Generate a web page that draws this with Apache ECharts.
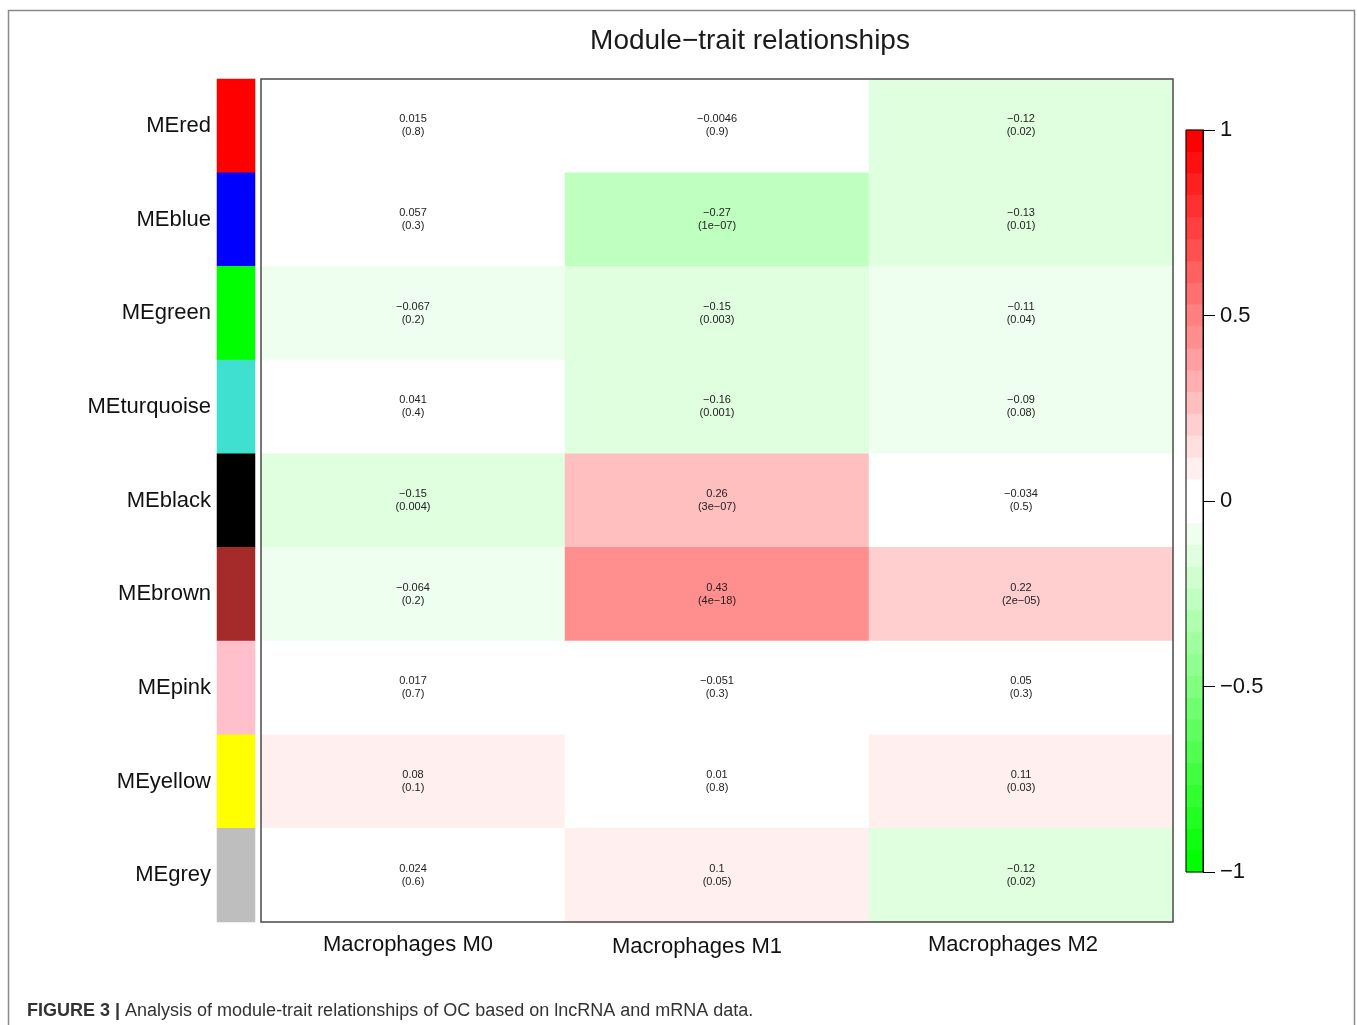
<!DOCTYPE html>
<html>
<head>
<meta charset="utf-8">
<title>Module−trait relationships</title>
<script src="https://cdn.jsdelivr.net/npm/echarts@6/dist/echarts.min.js"></script>
<style>
  html, body { margin: 0; padding: 0; background: #fff; }
  #chart { width: 1357px; height: 1025px; }
</style>
</head>
<body>
<div id="chart"></div>
<script>
// Module eigengenes (rows, top to bottom) and traits (columns)
const modules = ['MEred', 'MEblue', 'MEgreen', 'MEturquoise', 'MEblack', 'MEbrown', 'MEpink', 'MEyellow', 'MEgrey'];
const moduleColors = ['#FF0000', '#0000FF', '#00FF00', '#40E0D0', '#000000', '#A52A2A', '#FFC0CB', '#FFFF00', '#BEBEBE'];
const traits = ['Macrophages M0', 'Macrophages M1', 'Macrophages M2'];

// Correlation of each module with each trait
const corM0 = [0.015, 0.057, -0.067, 0.041, -0.15, -0.064, 0.017, 0.08, 0.024];
const corM1 = [-0.0046, -0.27, -0.15, -0.16, 0.26, 0.43, -0.051, 0.01, 0.1];
const corM2 = [-0.12, -0.13, -0.11, -0.09, -0.034, 0.22, 0.05, 0.11, -0.12];

// Corresponding p-values
const pM0 = ['0.8', '0.3', '0.2', '0.4', '0.004', '0.2', '0.7', '0.1', '0.6'];
const pM1 = ['0.9', '1e-07', '0.003', '0.001', '3e-07', '4e-18', '0.3', '0.8', '0.05'];
const pM2 = ['0.02', '0.01', '0.04', '0.08', '0.5', '2e-05', '0.3', '0.03', '0.02'];

// Colour key ticks
const keyTicks = [-1, -0.5, 0, 0.5, 1];

const corCols = [corM0, corM1, corM2];
const pCols = [pM0, pM1, pM2];

// Stepped green–white–red palette over [-1, 1]
const N_STEPS = 34;
function greenWhiteRed(n) {
  const half = Math.floor(n / 2);
  const out = [];
  const hex = v => Math.round(v * 255).toString(16).padStart(2, '0');
  for (let i = 0; i < half; i++) {
    const f = i / (half - 1);
    out.push('#' + hex(f) + 'ff' + hex(f));
  }
  for (let i = 0; i < half; i++) {
    const f = 1 - i / (half - 1);
    out.push('#ff' + hex(f) + hex(f));
  }
  return out;
}
const palette = greenWhiteRed(N_STEPS);
const stepSize = 2 / N_STEPS;
const pieces = palette.map((c, i) => {
  const lo = -1 + i * stepSize;
  const piece = { gte: lo, color: c };
  if (i < N_STEPS - 1) piece.lt = lo + stepSize; else piece.lte = 1;
  return piece;
});
// one key cell per palette step, valued at its step centre
const keyCategories = palette.map((c, i) => String(i));
const keyCells = palette.map((c, i) => [0, i, -1 + (i + 0.5) * stepSize]);

const minus = s => String(s).replace(/-/g, '\u2212');

// heatmap cells: [traitIndex, moduleIndex, correlation]
const cells = [];
corCols.forEach((col, x) => col.forEach((v, y) => cells.push([x, y, v])));
const pLookup = {};
pCols.forEach((col, x) => col.forEach((p, y) => { pLookup[x + '_' + y] = p; }));

const stripCells = modules.map((m, i) => ({
  value: [0, i, 0],
  itemStyle: { color: moduleColors[i] }
}));

const FONT = '"Liberation Sans", Arial, Helvetica, sans-serif';
const labelPad = [10, 40, 16];

const chart = echarts.init(document.getElementById('chart'));
chart.setOption({
  backgroundColor: '#ffffff',
  animation: false,
  textStyle: { fontFamily: FONT },
  title: [
    {
      text: 'Module\u2212trait relationships',
      left: 745,
      top: 22,
      textAlign: 'center',
      textStyle: { fontSize: 28, fontWeight: 'normal', color: '#1a1a1a', fontFamily: FONT }
    },
    {
      text: '{b|FIGURE 3 |} {n|Analysis of module-trait relationships of OC based on lncRNA and mRNA data.}',
      left: 22,
      top: 997,
      textStyle: {
        fontWeight: 'normal',
        rich: {
          b: { fontSize: 18, fontWeight: 'bold', color: '#333', fontFamily: FONT },
          n: { fontSize: 18, fontWeight: 'normal', color: '#333', fontFamily: FONT }
        }
      }
    }
  ],
  graphic: [
    {
      type: 'rect',
      left: 6,
      top: 8,
      shape: { width: 1346, height: 1040 },
      style: { fill: 'none', stroke: '#8a8a8a', lineWidth: 1.5 },
      silent: true
    }
  ],
  visualMap: {
    type: 'piecewise',
    show: false,
    seriesIndex: [0, 2],
    dimension: 2,
    pieces: pieces
  },
  grid: [
    { left: 261, top: 79, width: 912, height: 843, show: true, z: 3,
      backgroundColor: 'transparent', borderColor: '#4a4a4a', borderWidth: 1.5 },
    { left: 217, top: 79, width: 38, height: 843 },
    { left: 1186, top: 130, width: 17, height: 742, show: true, z: 5,
      backgroundColor: 'transparent', borderColor: '#000', borderWidth: 1 }
  ],
  xAxis: [
    {
      gridIndex: 0,
      type: 'category',
      data: traits,
      axisLine: { show: false },
      axisTick: { show: false },
      splitLine: { show: false },
      axisLabel: {
        margin: 12,
        formatter: (v, i) => '{t' + i + '|' + v + '}',
        rich: {
          t0: { fontSize: 22, color: '#111', fontFamily: FONT, padding: [0, labelPad[0], 0, 0] },
          t1: { fontSize: 22, color: '#111', fontFamily: FONT, padding: [2, labelPad[1], 0, 0] },
          t2: { fontSize: 22, color: '#111', fontFamily: FONT, padding: [0, labelPad[2], 4, 0] }
        }
      }
    },
    { gridIndex: 1, type: 'category', data: [''], show: false },
    { gridIndex: 2, type: 'category', data: [''], show: false }
  ],
  yAxis: [
    {
      gridIndex: 0,
      type: 'category',
      data: modules,
      inverse: true,
      axisLine: { show: false },
      axisTick: { show: false },
      axisLabel: { show: false },
      splitLine: { show: false }
    },
    {
      gridIndex: 1,
      type: 'category',
      data: modules,
      inverse: true,
      axisLine: { show: false },
      axisTick: { show: false },
      splitLine: { show: false },
      axisLabel: { fontSize: 22, color: '#111', margin: 6, fontFamily: FONT }
    },
    {
      gridIndex: 2,
      type: 'category',
      data: keyCategories,
      show: false
    },
    {
      gridIndex: 2,
      type: 'value',
      min: keyTicks[0],
      max: keyTicks[keyTicks.length - 1],
      interval: 0.5,
      position: 'right',
      z: 6,
      axisLine: { show: true, lineStyle: { color: '#000', width: 1 } },
      axisTick: { show: true, inside: false, length: 12, lineStyle: { color: '#000', width: 1 } },
      splitLine: { show: false },
      axisLabel: { fontSize: 22, color: '#111', margin: 17, fontFamily: FONT, formatter: v => minus(v) }
    }
  ],
  series: [
    {
      type: 'heatmap',
      xAxisIndex: 0,
      yAxisIndex: 0,
      data: cells,
      emphasis: { disabled: true },
      label: {
        show: true,
        fontSize: 11,
        lineHeight: 13,
        color: '#222',
        fontFamily: FONT,
        formatter: p => minus(p.value[2]) + '\n(' + minus(pLookup[p.value[0] + '_' + p.value[1]]) + ')'
      }
    },
    {
      type: 'heatmap',
      xAxisIndex: 1,
      yAxisIndex: 1,
      data: stripCells,
      emphasis: { disabled: true },
      label: { show: false }
    },
    {
      type: 'heatmap',
      xAxisIndex: 2,
      yAxisIndex: 2,
      data: keyCells,
      emphasis: { disabled: true },
      label: { show: false }
    }
  ]
});
</script>
</body>
</html>
